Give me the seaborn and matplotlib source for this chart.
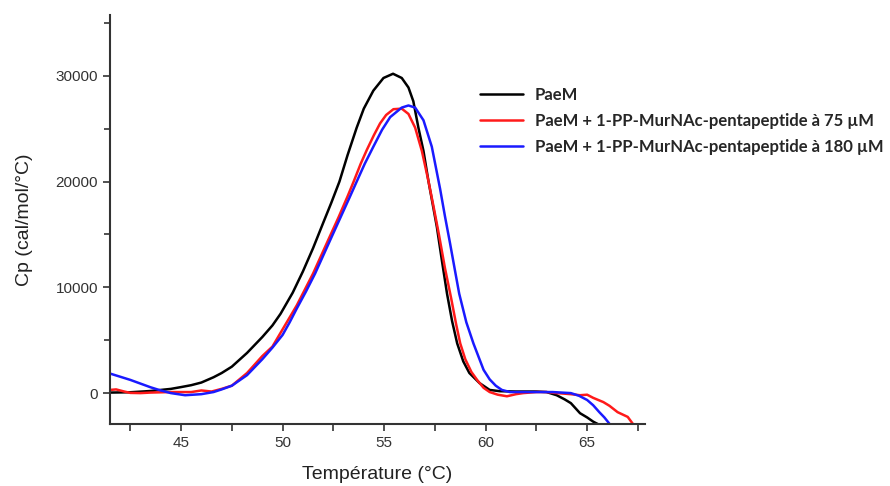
import matplotlib
matplotlib.use("Agg")
import matplotlib.pyplot as plt
from matplotlib.ticker import MultipleLocator
import pandas as pd
import seaborn as sns

# thermogram values
t_paem = [41.5, 42.5, 43.5, 44.5, 45.0, 45.5, 46.0, 46.6, 47.0, 47.5, 48.25, 49.0,
          49.5, 49.9, 50.5, 51.0, 51.5, 52.0, 52.4, 52.8, 53.2, 53.65, 54.0, 54.47,
          54.97, 55.44, 55.87, 56.2, 56.44, 56.69, 56.94, 57.18, 57.4, 57.6, 57.85, 58.1,
          58.35, 58.6, 58.9, 59.2, 59.7, 60.2, 60.7, 61.5, 62.5, 63.0, 63.5, 63.9,
          64.2, 64.65, 65.0, 65.3, 65.55]
cp_paem = [50, 80, 200, 400, 570, 750, 1000, 1500, 1900, 2500, 3800, 5300,
           6400, 7500, 9500, 11500, 13700, 16100, 18000, 20000, 22500, 25100, 26900, 28600,
           29800, 30200, 29800, 28900, 27600, 25100, 22900, 20100, 17800, 15700, 12500, 9400,
           6800, 4700, 3000, 1900, 950, 300, 180, 150, 150, 100, -200, -600,
           -950, -1900, -2300, -2700, -2950]

t_75 = [41.5, 41.8, 42.2, 42.5, 43.0, 43.5, 44.5, 45.5, 46.0, 46.5, 47.0, 47.5,
        48.25, 49.0, 49.5, 49.9, 50.3, 50.7, 51.1, 51.5, 51.9, 52.3, 52.75, 53.2,
        53.5, 53.85, 54.15, 54.5, 54.8, 55.1, 55.46, 55.87, 56.2, 56.53, 56.86, 57.18,
        57.45, 57.7, 58.0, 58.3, 58.55, 58.75, 59.0, 59.3, 59.6, 59.9, 60.2, 60.6,
        61.05, 61.5, 61.85, 62.5, 63.0, 63.5, 64.2, 64.65, 65.0, 65.3, 65.8, 66.1,
        66.5, 67.0, 67.25]
cp_75 = [300, 350, 150, 20, 0, 50, 100, 100, 250, 150, 400, 700,
         1900, 3500, 4400, 5700, 7000, 8300, 9800, 11300, 13000, 14700, 16600, 18600,
         20000, 21700, 23000, 24400, 25500, 26300, 26850, 26900, 26400, 25100, 22900, 20100,
         17500, 15000, 11800, 9000, 6500, 4700, 3200, 2000, 1200, 500, 100, -150,
         -300, -100, 0, 100, 100, 0, -100, -200, -150, -450, -850, -1200,
         -1800, -2250, -2900]

t_180 = [41.5, 42.0, 42.5, 43.0, 43.5, 44.0, 44.5, 45.2, 46.0, 46.6, 47.0, 47.5,
         48.25, 49.0, 49.5, 50.0, 50.35, 50.7, 51.15, 51.6, 52.0, 52.4, 52.85, 53.3,
         53.65, 54.05, 54.47, 54.9, 55.3, 55.87, 56.2, 56.53, 56.94, 57.35, 57.76, 58.0,
         58.25, 58.5, 58.7, 59.05, 59.4, 59.9, 60.2, 60.5, 60.8, 61.2, 61.7, 63.3,
         64.2, 64.6, 65.0, 65.3, 65.6, 65.85, 66.1]
cp_180 = [1850, 1550, 1250, 900, 550, 250, 0, -200, -100, 100, 350, 700,
          1700, 3200, 4300, 5500, 6700, 8000, 9600, 11300, 13000, 14700, 16600, 18500,
          20000, 21700, 23300, 24900, 26100, 27000, 27200, 27000, 25800, 23300, 19300, 16700,
          14150, 11500, 9400, 6700, 4700, 2200, 1300, 700, 300, 100, 100, 100,
          0, -250, -650, -1150, -1800, -2300, -2900]

labels = ["PaeM",
          "PaeM + 1-PP-MurNAc-pentapeptide à 75 µM",
          "PaeM + 1-PP-MurNAc-pentapeptide à 180 µM"]
colors = ["black", "#ff1a1a", "#1a1aff"]

df = pd.concat([
    pd.DataFrame({"T": t_paem, "Cp": cp_paem, "s": labels[0]}),
    pd.DataFrame({"T": t_75, "Cp": cp_75, "s": labels[1]}),
    pd.DataFrame({"T": t_180, "Cp": cp_180, "s": labels[2]}),
])

sns.set_style("ticks")
plt.rcParams['font.family'] = ['Liberation Sans', 'DejaVu Sans']

fig = plt.figure(figsize=(8.9, 4.86), dpi=100)
ax = fig.add_axes([0.1236, 0.1276, 0.6011, 0.8414])

sns.lineplot(data=df, x="T", y="Cp", hue="s", palette=colors, estimator=None,
             sort=False, linewidth=1.8, ax=ax, legend=True)

ax.set_xlim(41.5, 67.85)
ax.set_ylim(-2920, 35750)
ax.xaxis.set_major_locator(MultipleLocator(5))
ax.xaxis.set_minor_locator(MultipleLocator(2.5))
ax.yaxis.set_major_locator(MultipleLocator(10000))
ax.yaxis.set_minor_locator(MultipleLocator(5000))
ax.tick_params(axis="both", which="both", direction="out", width=1.2,
               color="#333333", labelcolor="#333333", labelsize=11)
ax.tick_params(axis="x", which="both", length=5)
ax.tick_params(axis="y", which="major", length=5)
ax.tick_params(axis="y", which="minor", length=4)
sns.despine(ax=ax)
for sp in ["left", "bottom"]:
    ax.spines[sp].set_linewidth(1.5)
    ax.spines[sp].set_color("#333333")

ax.set_xlabel("Température (°C)", fontsize=14, color="#222222", labelpad=12)
ax.set_ylabel("Cp (cal/mol/°C)", fontsize=14, color="#222222", labelpad=16)

handles, _ = ax.get_legend_handles_labels()
ax.legend(handles, labels, loc="upper left", bbox_to_anchor=(0.5393, 0.8204),
          bbox_transform=fig.transFigure, frameon=False, handlelength=2.6,
          handletextpad=0.7, labelspacing=0.58, borderpad=0, borderaxespad=0,
          prop={"family": "Lato", "weight": "bold", "size": 12})

fig.savefig("out.png", dpi=100)
